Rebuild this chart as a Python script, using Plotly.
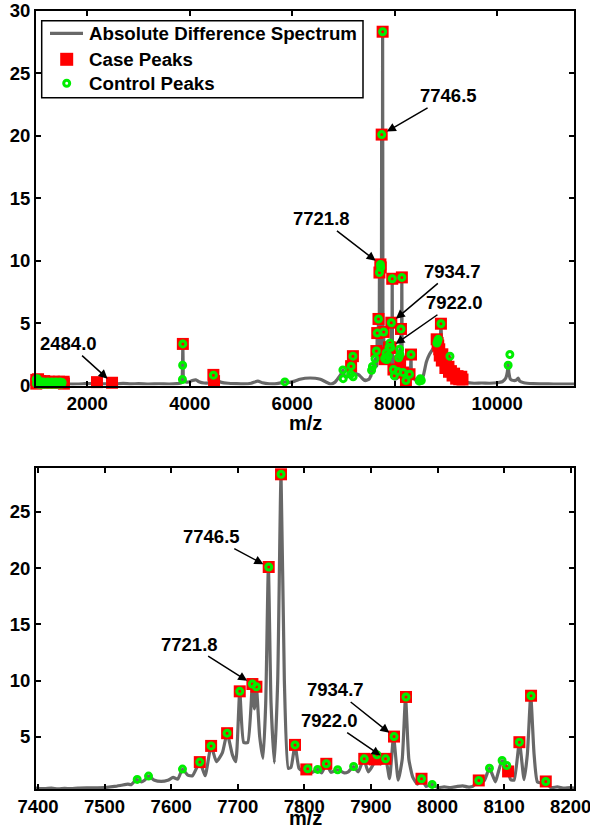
import plotly.graph_objects as go

# ---------------- data ----------------
spec_mz = [
    1000, 1020, 1040, 1060, 1090, 1120, 1160, 1200, 1260, 1320, 1380, 1440, 1500, 1560,
    1650, 1800, 1950, 2100, 2190, 2280, 2400, 2484, 2560, 2700, 2850, 3000, 3200, 3400,
    3600, 3750, 3830, 3852, 3860, 3866, 3872, 3880, 3920, 3980, 4050, 4120, 4180, 4280,
    4400, 4450, 4462, 4475, 4540, 4620, 4750, 4900, 5050, 5200, 5330, 5420, 5550, 5700,
    5857, 5950, 6050, 6150, 6250, 6350, 6450, 6550, 6650, 6750, 6830, 6900, 6950, 6990,
    7020, 7060, 7100, 7150, 7170, 7185, 7205, 7250, 7300, 7350,
    7397, 7410, 7420, 7430, 7440, 7450, 7460, 7480, 7500, 7515, 7525, 7535, 7540, 7548,
    7555, 7560, 7566, 7575, 7585, 7595, 7603, 7610, 7617, 7625, 7632, 7643, 7651, 7660,
    7668, 7677, 7684, 7692, 7697, 7703, 7709, 7715, 7722, 7725, 7728, 7733, 7738, 7742,
    7746, 7750, 7755, 7760, 7765, 7770, 7776, 7780, 7786, 7792, 7797, 7805, 7812, 7820,
    7826, 7833, 7840, 7850, 7860, 7866, 7874, 7881, 7889, 7896, 7903, 7909, 7915, 7922,
    7928, 7934, 7941, 7947, 7952, 7957, 7963, 7970, 7976, 7983, 7992, 8000, 8010, 8020,
    8030, 8038, 8045, 8053, 8062, 8070, 8078, 8087, 8091, 8097, 8103, 8110, 8115, 8123,
    8130, 8135, 8140, 8145, 8150, 8157, 8162, 8170, 8180, 8190, 8200, 8210,
    8220, 8250, 8290, 8305, 8319, 8333, 8380, 8430, 8480, 8520, 8560, 8620, 8680, 8740,
    8790, 8825, 8850, 8875, 8895, 8903, 8912, 8935, 8970, 9010, 9050, 9079, 9100, 9150,
    9200, 9260, 9320, 9400, 9550, 9700, 9850, 10000, 10100, 10170, 10200, 10215, 10230,
    10260, 10320, 10380, 10410, 10440, 10520, 10700, 10900, 11100, 11300, 11500,
]
spec_int = [
    0.55, 0.75, 0.70, 0.60, 0.45, 0.40, 0.32, 0.30, 0.28, 0.25, 0.28, 0.22, 0.20, 0.15,
    0.12, 0.12, 0.15, 0.18, 0.27, 0.15, 0.14, 0.22, 0.13, 0.17, 0.13, 0.15, 0.12, 0.14,
    0.12, 0.15, 0.20, 0.60, 1.60, 3.33, 1.60, 0.50, 0.30, 0.28, 0.40, 0.45, 0.30, 0.20,
    0.25, 0.60, 0.85, 0.50, 0.40, 0.25, 0.18, 0.15, 0.13, 0.18, 0.35, 0.22, 0.14, 0.15,
    0.28, 0.25, 0.35, 0.50, 0.58, 0.60, 0.58, 0.50, 0.30, 0.12, 0.25, 0.60, 0.90, 1.25,
    0.80, 0.65, 0.85, 1.55, 1.30, 2.35, 1.10, 0.95, 0.85, 0.65,
    0.45, 0.40, 0.45, 0.38, 0.42, 0.40, 0.45, 0.47, 0.50, 0.60, 0.70, 0.80, 0.75, 1.22,
    1.00, 1.15, 1.52, 1.15, 1.05, 1.15, 1.40, 1.25, 2.14, 1.60, 1.55, 2.76, 1.55, 4.20,
    2.80, 3.60, 5.33, 3.40, 2.80, 9.05, 4.50, 4.50, 9.70, 7.50, 9.46, 5.00, 3.10, 8.00,
    20.1, 8.00, 2.70, 10.0, 28.34, 10.0, 2.20, 2.30, 4.29, 2.20, 2.00, 2.17, 1.85, 2.11,
    1.80, 2.61, 1.85, 2.08, 1.80, 1.90, 2.37, 1.90, 3.05, 1.90, 2.50, 3.41, 2.60, 3.05,
    1.30, 5.03, 1.16, 3.00, 8.55, 3.00, 1.40, 0.80, 1.28, 0.60, 0.78, 0.50, 0.55, 0.50,
    0.60, 0.65, 0.55, 0.60, 1.13, 1.10, 2.22, 1.00, 1.80, 2.90, 2.46, 1.20, 1.16, 4.53,
    1.20, 3.50, 8.66, 3.50, 1.00, 0.90, 1.04, 0.50, 0.55, 0.45, 0.50, 0.40,
    0.45, 0.60, 0.90, 1.00, 2.48, 0.80, 0.55, 0.35, 0.30, 0.45, 0.80, 1.90, 2.50, 2.90,
    3.20, 3.50, 3.70, 3.30, 4.00, 4.95, 4.00, 2.80, 2.20, 1.80, 1.70, 2.34, 1.40, 1.00,
    0.80, 0.60, 0.40, 0.25, 0.18, 0.20, 0.18, 0.22, 0.30, 0.60, 1.10, 1.80, 1.00,
    0.50, 0.40, 0.45, 0.60, 0.35, 0.22, 0.15, 0.13, 0.12, 0.12, 0.12,
]

case_mz = [
    1005, 1005, 1040, 1080, 1120, 1160, 1200, 1250, 1300, 1350, 1400, 1450, 1500, 1540, 1545,
    2190, 2484, 3866, 4462, 4475, 7150, 7185,
    7643, 7660, 7684, 7703, 7722, 7728, 7746.5, 7765, 7786, 7803, 7833, 7890, 7906,
    7922, 7934.7, 7952.7, 7976, 8062, 8106, 8123, 8140.5, 8162.6,
    8220, 8290, 8319, 8820, 8838, 8850, 8870, 8880, 8903, 8920, 8930, 8960, 8990, 9000,
    9050, 9060, 9098, 9130, 9160, 9200, 9227, 9260, 9280, 9300, 9324,
]
case_int = [
    0.45, 0.15, 0.50, 0.35, 0.20, 0.35, 0.20, 0.30, 0.20, 0.30, 0.20, 0.30, 0.20, 0.30, 0.15,
    0.27, 0.22, 3.33, 0.85, 0.35, 1.55, 2.35,
    2.76, 4.20, 5.33, 9.05, 9.70, 9.46, 20.1, 28.34, 4.29, 2.11, 2.61, 3.05, 3.00,
    3.05, 5.03, 8.55, 1.28, 1.13, 1.93, 4.53, 8.66, 1.04,
    0.40, 0.90, 2.48, 3.70, 3.40, 3.20, 2.90, 2.40, 4.95, 2.00, 2.50, 2.10, 1.40, 1.80,
    1.50, 1.10, 1.15, 0.80, 0.95, 0.55, 0.75, 0.50, 0.55, 0.70, 0.48,
]

ctrl_mz = [
    1005, 1010, 1025, 1040, 1060, 1090, 1120, 1150, 1190, 1230, 1270, 1310, 1350, 1390,
    1430, 1470, 1500, 1510,
    3858, 3862, 3866, 4462, 5857, 6990, 6995, 7140, 7150, 7185, 7190,
    7549, 7566, 7617, 7643, 7660, 7684, 7703, 7722, 7728, 7746.5, 7765, 7786, 7805,
    7820, 7833, 7850, 7874, 7890, 7909, 7922, 7934.7, 7952.7, 7976, 7992, 8062, 8078,
    8097, 8104, 8123, 8140.5, 8162.6,
    8220, 8290, 8319, 8480, 8500, 8520, 8825, 8838, 8850, 8903, 9079, 10215, 10248,
]
ctrl_int = [
    0.50, 0.15, 0.55, 0.30, 0.10, 0.30, 0.10, 0.28, 0.10, 0.28, 0.10, 0.28, 0.10, 0.28,
    0.10, 0.28, 0.12, 0.25,
    0.48, 1.62, 3.33, 0.83, 0.29, 1.25, 0.55, 0.90, 1.55, 2.35, 0.70,
    1.22, 1.52, 2.14, 2.76, 4.20, 5.33, 9.05, 9.70, 9.46, 20.1, 28.34, 4.29, 2.17,
    2.11, 2.61, 2.08, 2.37, 3.05, 3.41, 3.05, 5.03, 8.55, 1.28, 0.78, 1.13, 2.22,
    2.90, 2.46, 4.53, 8.66, 1.04,
    0.40, 0.90, 2.48, 0.35, 0.55, 0.40, 3.40, 3.55, 3.70, 4.95, 2.34, 1.62, 2.48,
]

label_mz = [2484.0, 7721.8, 7746.5, 7922.0, 7934.7]
label_int = [0.22, 9.70, 20.1, 3.05, 5.03]
label_text = ["2484.0", "7721.8", "7746.5", "7922.0", "7934.7"]

legend_names = ["Absolute Difference Spectrum", "Case Peaks", "Control Peaks"]

top_xticks = [2000, 4000, 6000, 8000, 10000]
top_xticktext = ["2000", "4000", "6000", "8000", "10000"]
top_yticks = [0, 5, 10, 15, 20, 25, 30]
bot_xticks = [7400, 7500, 7600, 7700, 7800, 7900, 8000, 8100, 8200]
bot_xticktext = ["7400", "7500", "7600", "7700", "7800", "7900", "8000", "8100", "8200"]
bot_yticks = [5, 10, 15, 20, 25]

top_xrange = [1000, 11500]
top_yrange = [0, 30]
bot_xrange = [7397, 8205]
bot_yrange = [0.37, 28.9]

# ---------------- layout config (positions of label texts) ----------------
top_label_pos = {
    "2484.0": (1640, 3.35), "7721.8": (6570, 13.35), "7746.5": (9045, 23.2),
    "7922.0": (9170, 6.63), "7934.7": (9120, 9.14),
}
bot_label_pos = {
    "7721.8": (7627, 13.24), "7746.5": (7661, 22.8),
    "7922.0": (7838, 6.45), "7934.7": (7847, 9.17),
}

FONT = "Liberation Sans, Arial, Helvetica, sans-serif"
LINE_COLOR = "#686868"
RED = "#ff0000"
GREEN = "#00ee00"

W, H = 590, 830
M_L, M_R, M_T, M_B = 36, 16, 11, 41
PLOT_W = W - M_L - M_R
PLOT_H = H - M_T - M_B


def px_to_paper(xpx):
    return (xpx - M_L) / PLOT_W


def py_to_paper(ypx):
    return (H - M_B - ypx) / PLOT_H


def in_window(xs, ys, xr):
    px, py = [], []
    for a, b in zip(xs, ys):
        if xr[0] <= a <= xr[1]:
            px.append(a)
            py.append(b)
    return px, py


fig = go.Figure()

line_style = dict(color=LINE_COLOR, width=3.2, shape="spline", smoothing=0.5)
case_marker = dict(symbol="square", size=12, color=RED, line=dict(width=0))
ctrl_marker = dict(symbol="circle-open", size=6, color=GREEN, line=dict(width=3, color=GREEN))

# top panel
fig.add_trace(go.Scatter(x=spec_mz, y=spec_int, mode="lines", name=legend_names[0],
                         line=line_style, xaxis="x", yaxis="y"))
fig.add_trace(go.Scatter(x=case_mz, y=case_int, mode="markers", name=legend_names[1],
                         marker=case_marker, cliponaxis=False, xaxis="x", yaxis="y"))
fig.add_trace(go.Scatter(x=ctrl_mz, y=ctrl_int, mode="markers", name=legend_names[2],
                         marker=ctrl_marker, cliponaxis=False, xaxis="x", yaxis="y"))

# bottom panel
fig.add_trace(go.Scatter(x=spec_mz, y=spec_int, mode="lines", name=legend_names[0],
                         line=line_style, xaxis="x2", yaxis="y2"))
cx, cy = in_window(case_mz, case_int, bot_xrange)
fig.add_trace(go.Scatter(x=cx, y=cy, mode="markers", name=legend_names[1],
                         marker=case_marker, cliponaxis=False, xaxis="x2", yaxis="y2"))
gx, gy = in_window(ctrl_mz, ctrl_int, bot_xrange)
fig.add_trace(go.Scatter(x=gx, y=gy, mode="markers", name=legend_names[2],
                         marker=ctrl_marker, cliponaxis=False, xaxis="x2", yaxis="y2"))

LABEL_FONT = dict(family=FONT, size=18.5, color="black", weight="bold")
annotations = []
for mz, it, txt in zip(label_mz, label_int, label_text):
    if txt in top_label_pos:
        ax, ay = top_label_pos[txt]
        annotations.append(dict(
            x=mz, y=it, xref="x", yref="y", ax=ax, ay=ay, axref="x", ayref="y",
            text=txt, showarrow=True, arrowhead=2, arrowsize=1.2, arrowwidth=1.5,
            arrowcolor="black", standoff=6, font=LABEL_FONT))
    if txt in bot_label_pos:
        ax, ay = bot_label_pos[txt]
        annotations.append(dict(
            x=mz, y=it, xref="x2", yref="y2", ax=ax, ay=ay, axref="x2", ayref="y2",
            text=txt, showarrow=True, arrowhead=2, arrowsize=1.2, arrowwidth=1.5,
            arrowcolor="black", standoff=6, font=LABEL_FONT))

# axis titles (placed explicitly)
TITLE_FONT = dict(family=FONT, size=20, color="black", weight="bold")
annotations.append(dict(text="m/z", xref="paper", yref="paper", x=0.5, y=py_to_paper(423),
                        xanchor="center", yanchor="middle", showarrow=False, font=TITLE_FONT))
annotations.append(dict(text="m/z", xref="paper", yref="paper", x=0.5, y=py_to_paper(818),
                        xanchor="center", yanchor="middle", showarrow=False, font=TITLE_FONT))

# legend drawn as a boxed key in the top panel
LEG_FONT = dict(family=FONT, size=18.7, color="black", weight="bold")
leg_rows = [33.3, 59.3, 83.3]
shapes = [
    dict(type="rect", xref="paper", yref="paper", layer="above",
         x0=px_to_paper(41.7), x1=px_to_paper(363), y0=py_to_paper(97.7), y1=py_to_paper(20.7),
         line=dict(color="black", width=1.5), fillcolor="white"),
    dict(type="line", xref="paper", yref="paper", layer="above",
         x0=px_to_paper(50), x1=px_to_paper(83), y0=py_to_paper(leg_rows[0]),
         y1=py_to_paper(leg_rows[0]), line=dict(color=LINE_COLOR, width=3.2)),
    dict(type="rect", xref="paper", yref="paper", layer="above",
         x0=px_to_paper(66.7 - 6.5), x1=px_to_paper(66.7 + 6.5),
         y0=py_to_paper(leg_rows[1] + 6.5), y1=py_to_paper(leg_rows[1] - 6.5),
         line=dict(width=0), fillcolor=RED),
    dict(type="circle", xref="paper", yref="paper", layer="above",
         x0=px_to_paper(66.7 - 3), x1=px_to_paper(66.7 + 3),
         y0=py_to_paper(leg_rows[2] + 3), y1=py_to_paper(leg_rows[2] - 3),
         line=dict(color=GREEN, width=3), fillcolor="white"),
]
for name, row in zip(legend_names, leg_rows):
    annotations.append(dict(text=name, xref="paper", yref="paper", x=px_to_paper(87),
                            y=py_to_paper(row), xanchor="left", yanchor="middle",
                            showarrow=False, font=LEG_FONT))

tickfont = dict(family=FONT, size=18.5, color="black", weight="bold")
axis_common = dict(
    showline=True, linecolor="black", linewidth=2, mirror="ticks",
    ticks="inside", ticklen=5, tickwidth=1.5, tickcolor="black",
    showgrid=False, zeroline=False, tickfont=tickfont, automargin=False,
    ticklabeloverflow="allow")

fig.update_layout(
    width=W, height=H,
    margin=dict(l=M_L, r=M_R, t=M_T, b=M_B, autoexpand=False),
    paper_bgcolor="white", plot_bgcolor="white",
    font=dict(family=FONT, color="black"),
    showlegend=False,
    xaxis=dict(domain=[0, 1], range=top_xrange, anchor="y", tickvals=top_xticks,
               ticktext=top_xticktext, **axis_common),
    yaxis=dict(domain=[py_to_paper(385.5), 1], range=top_yrange, anchor="x",
               tickvals=top_yticks, **axis_common),
    xaxis2=dict(domain=[0, 1], range=bot_xrange, anchor="y2", tickvals=bot_xticks,
                ticktext=bot_xticktext, **axis_common),
    yaxis2=dict(domain=[0, py_to_paper(468)], range=bot_yrange, anchor="x2",
                tickvals=bot_yticks, **axis_common),
    annotations=annotations,
    shapes=shapes,
)

fig.write_html("out.html", config={"displayModeBar": False},
               post_script="document.body.style.margin='0';document.body.style.padding='0';")
